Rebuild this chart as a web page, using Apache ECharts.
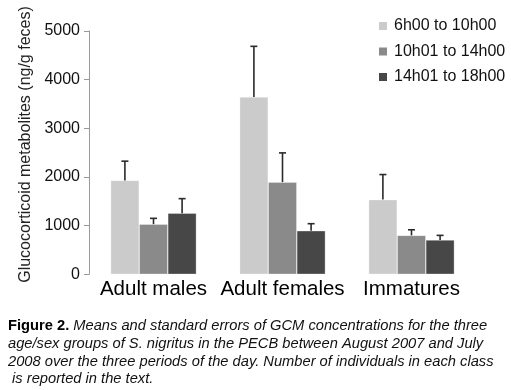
<!DOCTYPE html>
<html>
<head>
<meta charset="utf-8">
<script src="https://cdn.jsdelivr.net/npm/echarts@6/dist/echarts.min.js"></script>
<style>html,body{margin:0;padding:0;background:#fff;}#c{width:511px;height:390px;}</style>
</head>
<body>
<div id="c"></div>
<script>
var categories = ['Adult males', 'Adult females', 'Immatures'];
var seriesNames = ['6h00 to 10h00', '10h01 to 14h00', '14h01 to 18h00'];
var means1 = [1930, 3645, 1535];
var means2 = [1030, 1895, 800];
var means3 = [1255, 895, 705];
var se1 = [395, 1040, 515];
var se2 = [120, 600, 115];
var se3 = [300, 145, 95];
var yTicks = [0, 1000, 2000, 3000, 4000, 5000];
var yTitle = 'Glucocorticoid metabolites (ng/g feces)';
var captionLines = [
  ['Figure 2.', ' Means and standard errors of GCM concentrations for the three'],
  ['', 'age/sex groups of S. nigritus in the PECB between August 2007 and July'],
  ['', '2008 over the three periods of the day. Number of individuals in each class'],
  ['', ' is reported in the text.']
];

var colors = ['#cbcbcb', '#8a8a8a', '#474747'];
var means = [means1, means2, means3];
var ses = [se1, se2, se3];
var BAR_W = 28.6;
var FONT = '"Liberation Sans", Arial, sans-serif';

var chart = echarts.init(document.getElementById('c'), null, {renderer: 'canvas'});

var series = [];
for (var s = 0; s < 3; s++) {
  series.push({
    name: seriesNames[s],
    type: 'bar',
    data: means[s],
    barWidth: BAR_W,
    barGap: '0%',
    itemStyle: {color: colors[s], borderColor: 'rgba(255,255,255,0.5)', borderWidth: 0.6},
    z: 2
  });
}
for (var s2 = 0; s2 < 3; s2++) {
  (function (idx) {
    var data = means[idx].map(function (m, i) { return [i, m, m + ses[idx][i]]; });
    series.push({
      type: 'custom',
      name: 'err' + idx,
      data: data,
      z: 3,
      silent: true,
      renderItem: function (params, api) {
        var c = api.value(0);
        var p0 = api.coord([c, api.value(1)]);
        var p1 = api.coord([c, api.value(2)]);
        var x = p0[0] + (idx - 1) * BAR_W;
        var hw = 3.5;
        return {
          type: 'group',
          children: [
            {type: 'line', shape: {x1: x, y1: p0[1], x2: x, y2: p1[1]}, style: {stroke: '#2a2a2a', lineWidth: 1.6}},
            {type: 'line', shape: {x1: x - hw, y1: p1[1], x2: x + hw, y2: p1[1]}, style: {stroke: '#2a2a2a', lineWidth: 1.6}}
          ]
        };
      }
    });
  })(s2);
}

var graphics = [{
  type: 'text',
  x: 26, y: 144.5,
  rotation: Math.PI / 2,
  style: {text: yTitle, font: '16px ' + FONT, fill: '#222', align: 'center', verticalAlign: 'middle'}
}];
var capY = [325.5, 343.5, 361.5, 379];
captionLines.forEach(function (ln, i) {
  var txt = (ln[0] ? '{b|' + ln[0] + '}' : '') + '{i|' + ln[1] + '}';
  graphics.push({
    type: 'text',
    x: 8, y: capY[i],
    style: {
      text: txt,
      verticalAlign: 'middle',
      rich: {
        b: {fontFamily: FONT, fontSize: 14.7, fontWeight: 'bold', fill: '#000', color: '#000'},
        i: {fontFamily: FONT, fontSize: 14.7, fontStyle: 'italic', fill: '#111', color: '#111'}
      }
    }
  });
});

chart.setOption({
  animation: false,
  backgroundColor: '#fff',
  color: colors,
  grid: {left: 89, right: 35, top: 31, bottom: 115.7, containLabel: false},
  legend: {
    orient: 'vertical',
    left: 374, top: 13,
    itemWidth: 8, itemHeight: 8, itemGap: 9.5,
    icon: 'rect',
    data: seriesNames,
    itemStyle: {borderWidth: 0},
    textStyle: {fontFamily: FONT, fontSize: 16, color: '#111', padding: [0, 0, 0, 2]}
  },
  xAxis: {
    type: 'category',
    data: categories,
    axisLine: {show: false},
    axisTick: {show: false},
    axisLabel: {fontFamily: FONT, fontSize: 20.5, color: '#000', margin: 5, interval: 0}
  },
  yAxis: {
    type: 'value',
    min: 0, max: 5000, interval: 1000,
    axisLine: {show: true, lineStyle: {color: '#9a9a9a', width: 1}},
    axisTick: {show: true, length: 5, lineStyle: {color: '#9a9a9a'}},
    splitLine: {show: false},
    axisLabel: {
      fontFamily: FONT, fontSize: 16, color: '#111', margin: 9,
      formatter: function (v) { return yTicks.indexOf(v) >= 0 ? String(v) : ''; }
    }
  },
  graphic: graphics,
  series: series
});
</script>
</body>
</html>
